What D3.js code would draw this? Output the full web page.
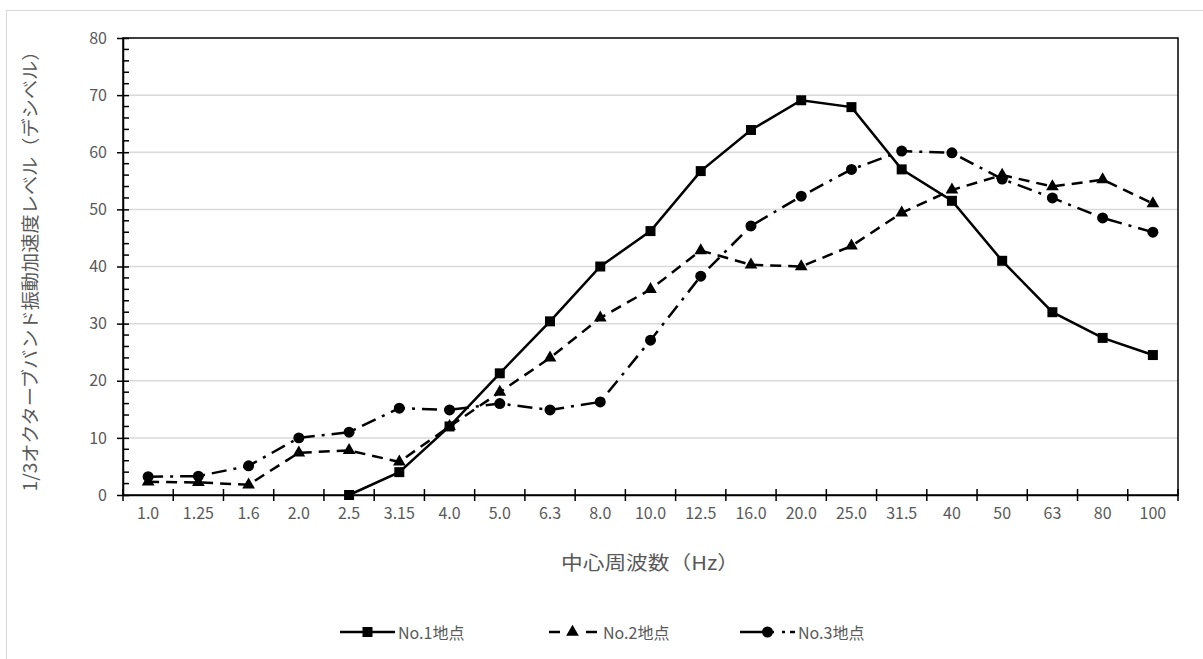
<!DOCTYPE html>
<html>
<head>
<meta charset="utf-8">
<script src="https://cdn.jsdelivr.net/npm/d3@7"></script>
<style>
  html, body { margin: 0; padding: 0; background: #fff; }
  svg { display: block; }
  text { font-family: "Noto Sans CJK JP", "Noto Sans", sans-serif; }
</style>
</head>
<body>
<svg id="chart" width="1203" height="659"></svg>
<script>
const categories = ["1.0","1.25","1.6","2.0","2.5","3.15","4.0","5.0","6.3","8.0","10.0","12.5","16.0","20.0","25.0","31.5","40","50","63","80","100"];
const no1 = [null,null,null,null,0,4.0,12.0,21.3,30.4,40.0,46.2,56.7,63.9,69.1,67.9,57.0,51.5,41.0,32.0,27.5,24.5];
const no2 = [2.3,2.2,1.8,7.4,7.8,5.8,12.0,18.0,24.0,31.0,36.0,42.8,40.3,40.0,43.6,49.4,53.4,56.0,54.0,55.2,51.0];
const no3 = [3.2,3.3,5.1,10.0,11.0,15.2,14.9,16.0,14.9,16.3,27.1,38.3,47.1,52.3,57.0,60.2,59.9,55.3,52.0,48.5,46.0];
const yTicks = [0,10,20,30,40,50,60,70,80];
const seriesNames = ["No.1地点","No.2地点","No.3地点"];
const yTitle = "1/3オクターブバンド振動加速度レベル（デシベル）";
const xTitle = "中心周波数（Hz）";

const svg = d3.select("#chart");
const m = {left: 123, right: 1178, top: 38, bottom: 495};

// outer frame
svg.append("rect").attr("x", 6.5).attr("y", 10.5).attr("width", 1210).attr("height", 660)
  .attr("fill", "#fff").attr("stroke", "#d9d9d9").attr("stroke-width", 1);

const x = d3.scaleBand().domain(categories).range([m.left, m.right]);
const y = d3.scaleLinear().domain([0, 80]).range([m.bottom, m.top]);

// gridlines
svg.append("g").selectAll("line").data(yTicks.filter(d => d > 0 && d < 80)).join("line")
  .attr("x1", m.left).attr("x2", m.right)
  .attr("y1", d => y(d)).attr("y2", d => y(d))
  .attr("stroke", "#d9d9d9").attr("stroke-width", 1.5);

// plot border
svg.append("rect").attr("x", m.left).attr("y", m.top)
  .attr("width", m.right - m.left).attr("height", m.bottom - m.top)
  .attr("fill", "none").attr("stroke", "#000").attr("stroke-width", 1.5);

// y axis major
const yAxis = d3.axisLeft(y).tickValues(yTicks).tickSizeInner(6).tickSizeOuter(0).tickPadding(10);
const gy = svg.append("g").attr("transform", `translate(${m.left},0)`).call(yAxis);
gy.select(".domain").attr("stroke", "#000").attr("stroke-width", 1.5);
gy.selectAll(".tick line").attr("stroke", "#000").attr("stroke-width", 1.5).attr("x2", -6).attr("x1", 6);
gy.selectAll(".tick text").attr("fill", "#595959").style("font-size", "16px");
// y axis minor
const minor = d3.range(0, 81, 2).filter(d => d % 10 !== 0);
svg.append("g").selectAll("line").data(minor).join("line")
  .attr("x1", m.left).attr("x2", m.left + 6)
  .attr("y1", d => y(d)).attr("y2", d => y(d))
  .attr("stroke", "#000").attr("stroke-width", 1.5);

// x axis
const xAxis = d3.axisBottom(x).tickSize(0).tickPadding(13);
const gx = svg.append("g").attr("transform", `translate(0,${m.bottom})`).call(xAxis);
gx.select(".domain").attr("stroke", "#000").attr("stroke-width", 1.5);
gx.selectAll(".tick text").attr("fill", "#595959").style("font-size", "16px");
// x boundary ticks
const bounds = categories.map(c => x(c)).concat([m.right]);
svg.append("g").selectAll("line").data(bounds).join("line")
  .attr("x1", d => d).attr("x2", d => d)
  .attr("y1", m.bottom - 6).attr("y2", m.bottom + 6)
  .attr("stroke", "#000").attr("stroke-width", 1.5);

// titles
svg.append("text").attr("transform", `translate(29,${(m.top + m.bottom) / 2}) rotate(-90)`)
  .attr("text-anchor", "middle").attr("dominant-baseline", "central")
  .attr("fill", "#595959").style("font-size", "18px")
  .attr("textLength", 450).attr("lengthAdjust", "spacingAndGlyphs").text(yTitle);
svg.append("text").attr("x", 650).attr("y", 561)
  .attr("text-anchor", "middle").attr("dominant-baseline", "central")
  .attr("fill", "#595959").style("font-size", "19px")
  .attr("textLength", 178).attr("lengthAdjust", "spacingAndGlyphs").text(xTitle);

// series
const cx = c => x(c) + x.bandwidth() / 2;
const styles = [
  {data: no1, dash: null, marker: "square", ldash: null},
  {data: no2, dash: "11,7", marker: "triangle", ldash: "0,4,11,26,11,10"},
  {data: no3, dash: "15,7,3,7", marker: "circle", ldash: "34,8,3,5,6,10"}
];
const line = d3.line().defined(d => d.v != null).x(d => cx(d.c)).y(d => y(d.v));
const symSize = {square: 100, triangle: 70, circle: 95};
const symType = {square: d3.symbolSquare, triangle: d3.symbolTriangle, circle: d3.symbolCircle};

styles.forEach(s => {
  const pts = categories.map((c, i) => ({c, v: s.data[i]}));
  svg.append("path").datum(pts).attr("d", line)
    .attr("fill", "none").attr("stroke", "#000").attr("stroke-width", 2.5)
    .attr("stroke-dasharray", s.dash);
  svg.append("g").selectAll("path").data(pts.filter(d => d.v != null)).join("path")
    .attr("transform", d => `translate(${cx(d.c)},${y(d.v)})`)
    .attr("d", d3.symbol().type(symType[s.marker]).size(symSize[s.marker]))
    .attr("fill", "#000");
});

// legend
const legendItems = [
  {x: 340, s: styles[0], name: seriesNames[0]},
  {x: 545, s: styles[1], name: seriesNames[1]},
  {x: 740, s: styles[2], name: seriesNames[2]}
];
const ly = 632;
legendItems.forEach(it => {
  const g = svg.append("g");
  g.append("line").attr("x1", it.x).attr("x2", it.x + 55).attr("y1", ly).attr("y2", ly)
    .attr("stroke", "#000").attr("stroke-width", 2.5).attr("stroke-dasharray", it.s.ldash);
  g.append("path").attr("transform", `translate(${it.x + 27.5},${ly})`)
    .attr("d", d3.symbol().type(symType[it.s.marker]).size(symSize[it.s.marker])).attr("fill", "#000");
  g.append("text").attr("x", it.x + 58).attr("y", ly).attr("dominant-baseline", "central")
    .attr("fill", "#595959").style("font-size", "16px").text(it.name);
});
</script>
</body>
</html>
